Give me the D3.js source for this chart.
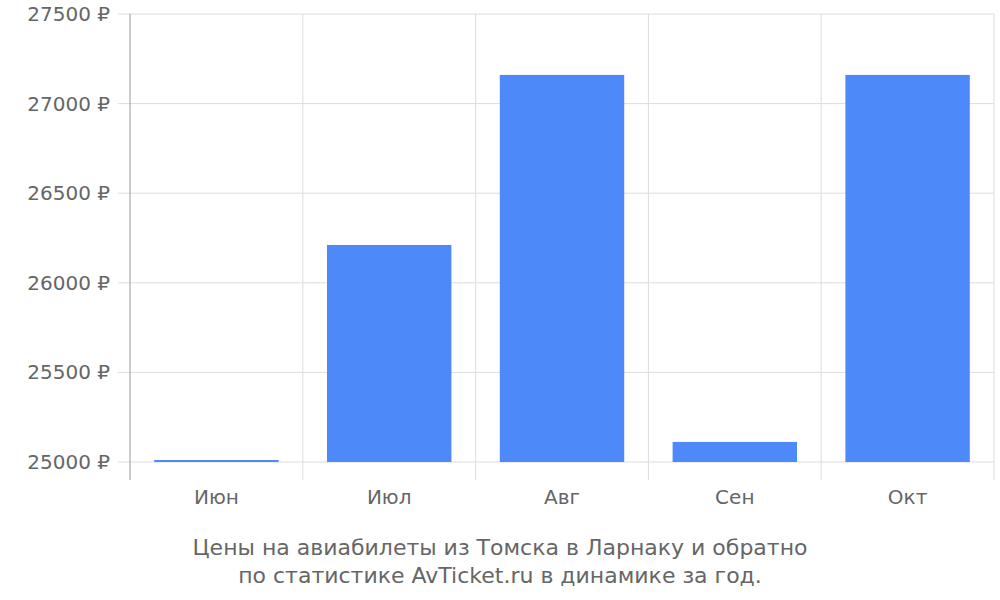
<!DOCTYPE html>
<html><head><meta charset="utf-8">
<script src="https://cdn.jsdelivr.net/npm/d3@7"></script>
<style>body{margin:0;background:#fff}svg{font-family:"DejaVu Sans",sans-serif}</style>
</head><body>
<svg id="c" width="1000" height="600"></svg>
<script>
const categories = ["Июн","Июл","Авг","Сен","Окт"];
const values = [25011, 26211, 27160, 25112, 27160];
const yTicks = [25000, 25500, 26000, 26500, 27000, 27500];
const caption = ["Цены на авиабилеты из Томска в Ларнаку и обратно","по статистике AvTicket.ru в динамике за год."];

const svg = d3.select("#c");
const L=130, R=994, T=14, B=462;
const x = d3.scaleBand().domain(categories).range([L,R]);
const y = d3.scaleLinear().domain([25000,27500]).range([B,T]);
const grid="#dddddd", txt="#666666";

svg.selectAll(".hg").data(yTicks).join("line")
  .attr("x1",L-12).attr("x2",R).attr("y1",d=>y(d)).attr("y2",d=>y(d))
  .attr("stroke",grid).attr("stroke-width",1);
const bounds = categories.map(c=>x(c)).concat([R]);
svg.selectAll(".vg").data(bounds.slice(1)).join("line")
  .attr("x1",d=>d).attr("x2",d=>d).attr("y1",T).attr("y2",480)
  .attr("stroke",grid).attr("stroke-width",1);
svg.append("line").attr("x1",L).attr("x2",L).attr("y1",T).attr("y2",480).attr("stroke","#999");

const bw = x.bandwidth()*0.72;
svg.selectAll(".bar").data(values).join("rect")
  .attr("x",(d,i)=>x(categories[i])+(x.bandwidth()-bw)/2)
  .attr("width",bw)
  .attr("y",d=>y(d)).attr("height",d=>B-y(d))
  .attr("fill","#4d89f9");

svg.selectAll(".yl").data(yTicks).join("text")
  .attr("x",110).attr("y",d=>y(d)+7).attr("text-anchor","end")
  .attr("font-size",20).attr("fill",txt).text(d=>d+" ₽");
svg.selectAll(".xl").data(categories).join("text")
  .attr("x",d=>x(d)+x.bandwidth()/2).attr("y",504).attr("text-anchor","middle")
  .attr("font-size",20).attr("fill",txt).text(d=>d);
svg.selectAll(".cap").data(caption).join("text")
  .attr("x",500).attr("y",(d,i)=>555+i*28).attr("text-anchor","middle")
  .attr("font-size",22).attr("fill",txt).text(d=>d);
</script>
</body></html>
